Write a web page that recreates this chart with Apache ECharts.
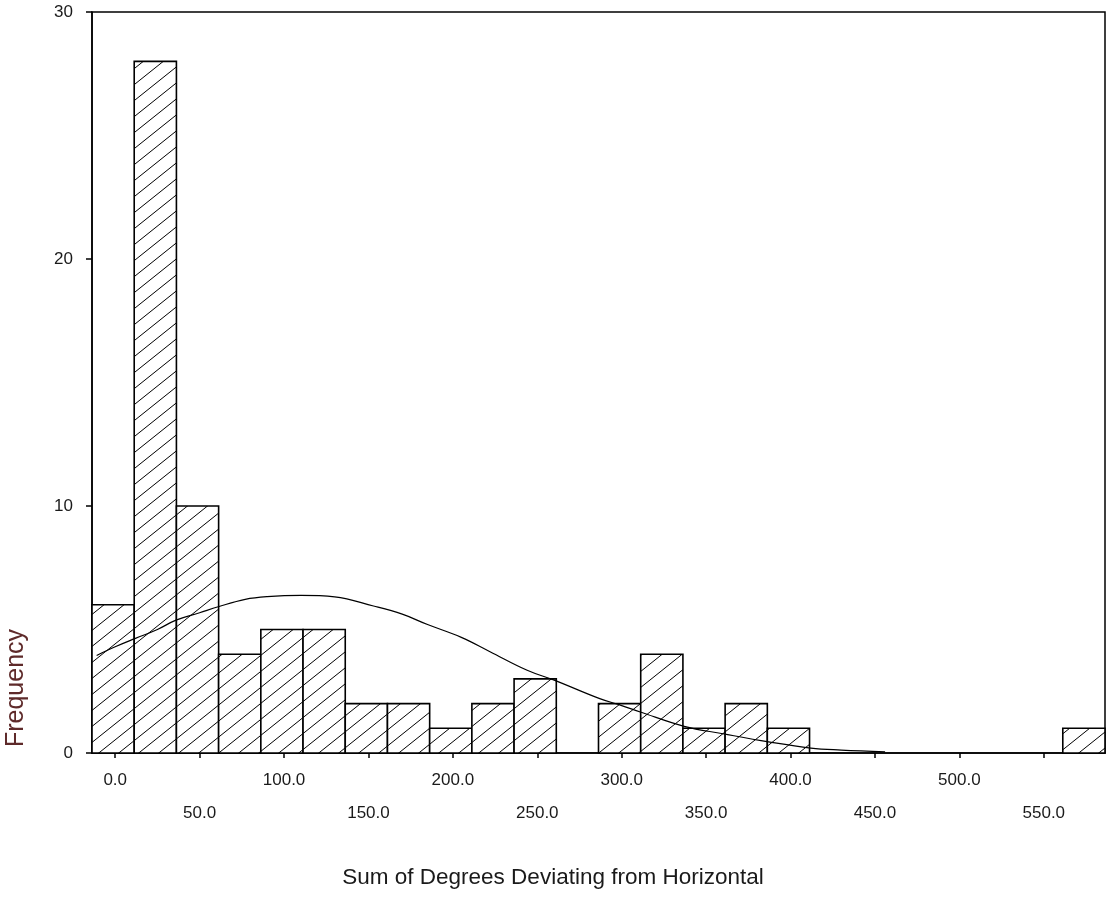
<!DOCTYPE html>
<html>
<head>
<meta charset="utf-8">
<script src="https://cdn.jsdelivr.net/npm/echarts@6/dist/echarts.min.js"></script>
<style>
html,body{margin:0;padding:0;background:#fff;}
#chart{width:1106px;height:907px;}
</style>
</head>
<body>
<div id="chart"></div>
<script>
// ---- data ----
const binWidth = 25;
const binStarts = [-13.75, 11.25, 36.25, 61.25, 86.25, 111.25, 136.25, 161.25, 186.25, 211.25, 236.25, 261.25,
                   286.25, 311.25, 336.25, 361.25, 386.25, 411.25, 436.25, 461.25, 486.25, 511.25, 536.25, 561.25];
const counts    = [6, 28, 10, 4, 5, 5, 2, 2, 1, 2, 3, 0,
                   2, 4, 1, 2, 1, 0, 0, 0, 0, 0, 0, 1];
const curveX = [-11, 0, 12, 25, 36, 50, 61, 77, 90, 110, 130, 153, 170, 185, 205, 222, 244, 260, 287, 300, 311, 337, 360, 387, 412, 430, 456];
const curveY = [3.95, 4.3, 4.64, 5.0, 5.38, 5.68, 5.92, 6.22, 6.33, 6.38, 6.32, 5.95, 5.62, 5.2, 4.68, 4.1, 3.35, 2.95, 2.2, 1.92, 1.66, 1.08, 0.78, 0.45, 0.2, 0.12, 0.05];
const xTickValues = [0, 50, 100, 150, 200, 250, 300, 350, 400, 450, 500, 550];
const yTickValues = [0, 10, 20, 30];
const xTitle = 'Sum of Degrees Deviating from Horizontal';
const yTitle = 'Frequency';

// ---- hatch pattern ----
const tile = document.createElement('canvas');
const TW = 20, TH = 16;
tile.width = TW; tile.height = TH;
const tc = tile.getContext('2d');
tc.fillStyle = '#fff';
tc.fillRect(0, 0, TW, TH);
tc.strokeStyle = '#000';
tc.lineWidth = 1;
for (let k = -1; k <= 1; k++) {
  tc.beginPath();
  tc.moveTo(k * TW - TW, 2 * TH);
  tc.lineTo(k * TW + 2 * TW, -TH);
  tc.stroke();
}
const hatch = { image: tile, repeat: 'repeat' };

const FONT = 'Liberation Sans, Arial, sans-serif';
const histData = binStarts.map((s, i) => [s, s + binWidth, counts[i]]).filter(d => d[2] > 0);

const chart = echarts.init(document.getElementById('chart'), null, { renderer: 'canvas' });
chart.setOption({
  animation: false,
  backgroundColor: '#fff',
  grid: { left: 92, right: 1, top: 12, bottom: 154, show: true, borderColor: '#000', borderWidth: 1.5, backgroundColor: 'transparent' },
  xAxis: {
    type: 'value', min: -13.75, max: 586.25,
    axisLine: { show: true, onZero: false, lineStyle: { color: '#000', width: 1.5 } },
    axisTick: { show: true, customValues: xTickValues, length: 5, lineStyle: { color: '#000', width: 1.5 } },
    axisLabel: {
      customValues: xTickValues,
      formatter: v => (v % 100 === 0 ? '' : '\n') + Number(v).toFixed(1),
      fontSize: 17, lineHeight: 33, margin: 11, color: '#1a1a1a', fontFamily: FONT
    },
    splitLine: { show: false }
  },
  yAxis: {
    type: 'value', min: 0, max: 30,
    axisLine: { show: true, onZero: false, lineStyle: { color: '#000', width: 1.5 } },
    axisTick: { show: true, customValues: yTickValues, length: 6, lineStyle: { color: '#000', width: 1.5 } },
    axisLabel: { customValues: yTickValues, fontSize: 17, margin: 19, color: '#1a1a1a', fontFamily: FONT },
    splitLine: { show: false }
  },
  graphic: [{
    type: 'text', x: 16, y: 688, rotation: Math.PI / 2,
    style: { text: yTitle, font: '25px ' + FONT, fill: '#5e2a2a', align: 'center', verticalAlign: 'middle' }
  }, {
    type: 'text', x: 553, y: 878,
    style: { text: xTitle, font: '22.5px ' + FONT, fill: '#1a1a1a', align: 'center', verticalAlign: 'middle' }
  }],
  series: [{
    type: 'custom',
    data: histData,
    encode: { x: [0, 1], y: 2 },
    renderItem: (params, api) => {
      const p0 = api.coord([api.value(0), api.value(2)]);
      const p1 = api.coord([api.value(1), 0]);
      return {
        type: 'rect',
        shape: { x: p0[0], y: p0[1], width: p1[0] - p0[0], height: p1[1] - p0[1] },
        style: { fill: hatch, stroke: '#000', lineWidth: 1.6 }
      };
    },
    z: 2
  }, {
    type: 'line',
    data: curveX.map((x, i) => [x, curveY[i]]),
    smooth: 0.4, showSymbol: false, symbol: 'none',
    lineStyle: { color: '#000', width: 1.2 },
    z: 5
  }]
});
</script>
</body>
</html>
